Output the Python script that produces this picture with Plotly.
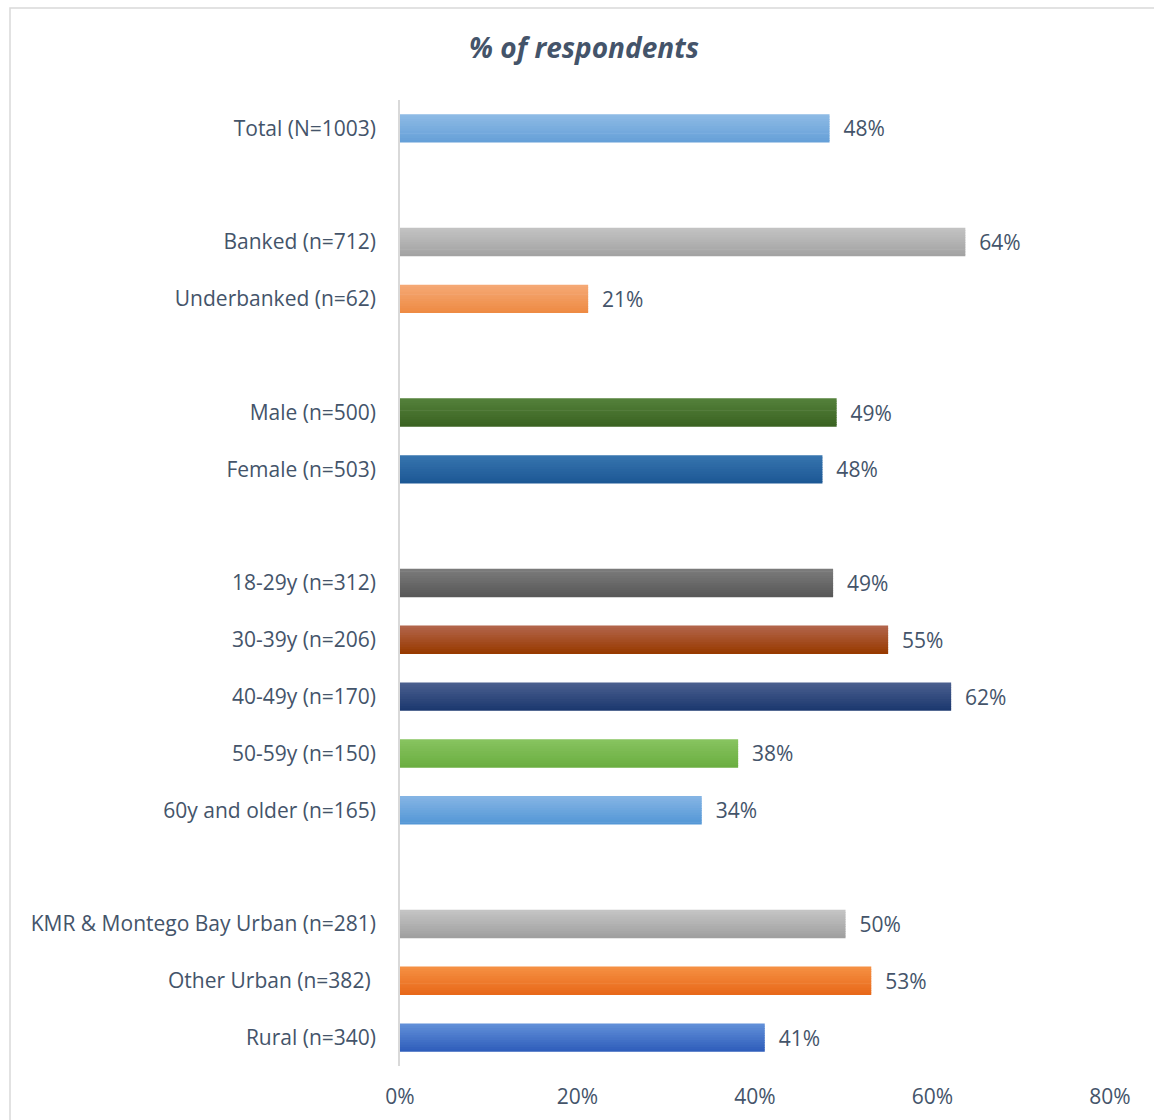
import plotly.graph_objects as go

# Survey groups (top to bottom) and share of respondents, in percent
categories = [
    "Total (N=1003)",
    "Banked (n=712)",
    "Underbanked (n=62)",
    "Male (n=500)",
    "Female (n=503)",
    "18-29y (n=312)",
    "30-39y (n=206)",
    "40-49y (n=170)",
    "50-59y (n=150)",
    "60y and older (n=165)",
    "KMR & Montego Bay Urban (n=281)",
    "Other Urban (n=382) ",
    "Rural (n=340)",
]
values = [48.4, 63.7, 21.2, 49.2, 47.6, 48.8, 55.0, 62.1, 38.1, 34.0, 50.2, 53.1, 41.1]

# Display order with blank rows separating the groups
row_order = [
    "Total (N=1003)", " ",
    "Banked (n=712)", "Underbanked (n=62)", "  ",
    "Male (n=500)", "Female (n=503)", "   ",
    "18-29y (n=312)", "30-39y (n=206)", "40-49y (n=170)", "50-59y (n=150)",
    "60y and older (n=165)", "    ",
    "KMR & Montego Bay Urban (n=281)", "Other Urban (n=382) ", "Rural (n=340)",
]

x_ticks = [0, 20, 40, 60, 80]
x_tick_labels = ["0%", "20%", "40%", "60%", "80%"]

# Vertical gradient per bar: (top colour, bottom colour)
bar_gradients = [
    ("#8DBAE5", "#66A0D8"),
    ("#C2C2C2", "#A3A3A3"),
    ("#F5A874", "#EE8B44"),
    ("#53803A", "#3B6322"),
    ("#3674AE", "#1D5895"),
    ("#7A7A7A", "#585858"),
    ("#B2644A", "#983A00"),
    ("#4A5F8E", "#1C386F"),
    ("#87C35F", "#6BAE41"),
    ("#84B4E4", "#5497D6"),
    ("#C4C4C4", "#A0A0A0"),
    ("#F58F42", "#E8691A"),
    ("#618FD8", "#2F5EBB"),
]

TEXT = "#44546A"
FONT = "Open Sans"
LABEL_SIZE = 21


def hex_to_rgb(h):
    h = h.lstrip("#")
    return tuple(int(h[i:i + 2], 16) for i in (0, 2, 4))


def mix(c0, c1, t):
    a, b = hex_to_rgb(c0), hex_to_rgb(c1)
    r, g, bl = (round(a[k] + (b[k] - a[k]) * t) for k in range(3))
    return f"rgb({r},{g},{bl})"


fig = go.Figure()

bar_width = 0.5
n_bands = 12
band = bar_width / n_bands
for i in range(n_bands):
    t = i / (n_bands - 1)
    colors = [mix(top, bot, t) for top, bot in bar_gradients]
    w = band * 1.3 if i < n_bands - 1 else band
    fig.add_trace(go.Bar(
        x=values, y=categories, orientation="h",
        offset=-bar_width / 2 + i * band, width=w,
        marker=dict(color=colors, line=dict(width=0)),
        hoverinfo="skip", showlegend=False,
    ))

# Value labels at the end of each bar
fig.add_trace(go.Bar(
    x=values, y=categories, orientation="h",
    offset=-bar_width / 2, width=bar_width,
    marker=dict(color="rgba(0,0,0,0)", line=dict(width=0)),
    texttemplate="\u00a0\u00a0%{x:.0f}%", textposition="outside",
    textfont=dict(family=FONT, size=LABEL_SIZE, color=TEXT),
    cliponaxis=False, showlegend=False,
))

W, H = 1154, 1120
ml, mr, mt, mb = 400, 44, 100, 54
pw, ph = W - ml - mr, H - mt - mb

fig.update_layout(
    width=W, height=H,
    margin=dict(l=ml, r=mr, t=mt, b=mb),
    paper_bgcolor="white", plot_bgcolor="white",
    barmode="overlay",
    font=dict(family=FONT, color=TEXT, size=LABEL_SIZE),
    title=dict(
        text="<b><i>% of respondents</i></b>",
        x=584 / W, xanchor="center", y=1 - 48 / H, yanchor="middle",
        font=dict(family=FONT, size=28, color=TEXT),
    ),
    xaxis=dict(
        range=[0, 80], tickvals=x_ticks, ticktext=x_tick_labels,
        showgrid=False, zeroline=False, showline=False, ticks="",
        ticklabelstandoff=16, automargin=False,
        tickfont=dict(family=FONT, size=LABEL_SIZE, color=TEXT),
    ),
    yaxis=dict(
        type="category", categoryorder="array", categoryarray=row_order,
        autorange="reversed", showgrid=False, zeroline=False,
        showline=True, linecolor="#D9D9D9", linewidth=1.5, ticks="",
        ticklabelstandoff=18, automargin=False,
        tickfont=dict(family=FONT, size=LABEL_SIZE, color=TEXT),
    ),
    shapes=[dict(
        type="rect", xref="paper", yref="paper",
        x0=(10 - ml) / pw, x1=1.2, y0=-0.2, y1=(H - mb - 8) / ph,
        line=dict(color="#D9D9D9", width=1.5), fillcolor="rgba(0,0,0,0)",
        layer="below",
    )],
)

fig.write_html("out.html")
